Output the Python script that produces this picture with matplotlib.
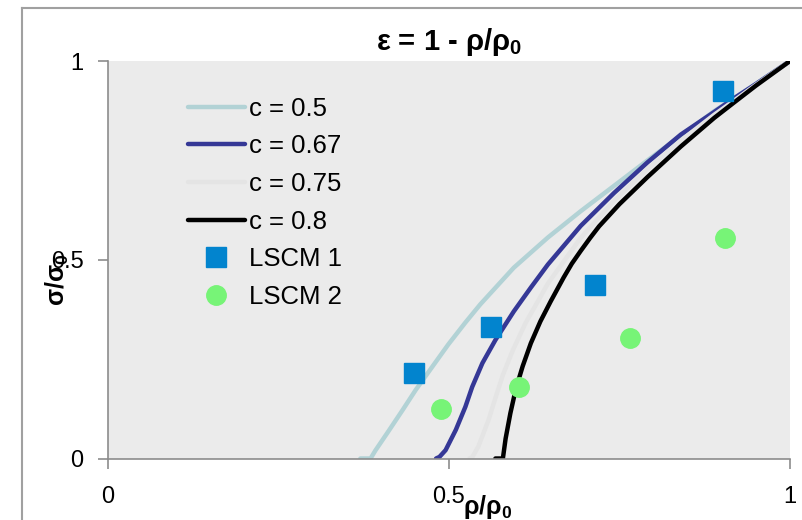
import matplotlib
matplotlib.use("Agg")
import matplotlib.pyplot as plt
from matplotlib.lines import Line2D

plt.rcParams['font.family'] = ['Liberation Sans', 'DejaVu Sans']
plt.rcParams['mathtext.fontset'] = 'custom'
plt.rcParams['mathtext.rm'] = 'Liberation Sans'
plt.rcParams['mathtext.bf'] = 'Liberation Sans:bold'

# model curves (rho/rho0, sigma/sigma0)
rho_c50 = [0.370, 0.385, 0.392, 0.411, 0.432, 0.451, 0.476, 0.499, 0.524, 0.546,
           0.595, 0.645, 0.693, 0.742, 0.791, 0.840, 0.889, 0.945, 1.0]
sig_c50 = [0.0, 0.0, 0.020, 0.068, 0.122, 0.172, 0.232, 0.287, 0.342, 0.388,
           0.480, 0.556, 0.622, 0.686, 0.750, 0.812, 0.874, 0.937, 1.0]

rho_c67 = [0.481, 0.486, 0.495, 0.510, 0.524, 0.534, 0.549, 0.568, 0.595, 0.620,
           0.645, 0.693, 0.742, 0.791, 0.840, 0.889, 0.916, 0.950, 1.0]
sig_c67 = [0.0, 0.004, 0.021, 0.072, 0.130, 0.180, 0.240, 0.298, 0.370, 0.430,
           0.488, 0.585, 0.668, 0.745, 0.815, 0.872, 0.904, 0.942, 1.0]

rho_c75 = [0.530, 0.534, 0.543, 0.558, 0.568, 0.579, 0.593, 0.612, 0.645, 0.693,
           0.742, 0.791, 0.840, 0.889, 0.916, 0.950, 1.0]
sig_c75 = [0.0, 0.003, 0.030, 0.097, 0.152, 0.210, 0.270, 0.340, 0.440, 0.555,
           0.648, 0.728, 0.800, 0.865, 0.898, 0.940, 1.0]

rho_c80 = [0.568, 0.579, 0.583, 0.590, 0.598, 0.608, 0.620, 0.634, 0.649, 0.668,
           0.680, 0.693, 0.707, 0.720, 0.750, 0.791, 0.840, 0.889, 0.916, 0.950, 1.0]
sig_c80 = [0.0, 0.0, 0.050, 0.114, 0.175, 0.232, 0.290, 0.345, 0.395, 0.455,
           0.490, 0.522, 0.555, 0.584, 0.640, 0.708, 0.785, 0.857, 0.893, 0.938, 1.0]

# measurements
rho_lscm1 = [0.448, 0.561, 0.714, 0.902]
sig_lscm1 = [0.215, 0.331, 0.436, 0.925]
rho_lscm2 = [0.489, 0.602, 0.765, 0.905]
sig_lscm2 = [0.125, 0.180, 0.303, 0.555]

fig = plt.figure(figsize=(8.03, 5.20), dpi=100)
ax = fig.add_axes([108/803, 1 - 458.5/520, 682/803, 397.5/520])
ax.set_facecolor('#ebebeb')

lw = 3.2
style = dict(lw=lw, solid_capstyle='round', solid_joinstyle='round')
ax.plot(rho_c50, sig_c50, color='#b2d2d5', label='c = 0.5', **style)
ax.plot(rho_c67, sig_c67, color='#353896', label='c = 0.67', **style)
ax.plot(rho_c75, sig_c75, color='#e4e4e4', label='c = 0.75', **style)
ax.plot(rho_c80, sig_c80, color='black', label='c = 0.8', **style)
ax.plot(rho_lscm1, sig_lscm1, 's', color='#0284ce', ms=14, mec='#0284ce', label='LSCM 1', zorder=5)
ax.plot(rho_lscm2, sig_lscm2, 'o', color='#77f477', ms=14, mec='#77f477', label='LSCM 2', zorder=5)

ax.set_xlim(0, 1)
ax.set_ylim(0, 1)
ax.set_xticks([0, 0.5, 1])
ax.set_xticklabels(['0', '0.5', '1'])
ax.set_yticks([0, 0.5, 1])
ax.set_yticklabels(['0', '0.5', '1'])

for s in ['top', 'right']:
    ax.spines[s].set_visible(False)
for s in ['left', 'bottom']:
    ax.spines[s].set_color('#8c8c8c')
    ax.spines[s].set_linewidth(1.2)
ax.tick_params(axis='both', direction='out', length=7, width=1.2, color='#8c8c8c',
               labelsize=17, labelcolor='black')
ax.tick_params(axis='x', pad=13)
ax.tick_params(axis='y', pad=10.5)

ax.set_title(r'ε = 1 - ρ/ρ$_\mathbf{0}$', fontsize=21, fontweight='bold', pad=8)

fig.text(57/803, 1 - 280/520, r'σ/σ$_\mathbf{0}$', rotation=90, fontsize=18,
         fontweight='bold', ha='center', va='center')
fig.text(488/803, 1 - 507/520, r'ρ/ρ$_\mathbf{0}$', fontsize=18,
         fontweight='bold', ha='center', va='center')

ax.legend(loc='upper left', bbox_to_anchor=(0.1175, 0.91), frameon=False,
          fontsize=18.5, handlelength=2.2, handletextpad=0.15, labelspacing=0.53,
          borderpad=0, borderaxespad=0)

# outer chart border (only left and top visible in the crop)
fig.add_artist(Line2D([22/803, 22/803], [0, 1 - 8/520], transform=fig.transFigure,
                      color='#a0a0a0', lw=1.5))
fig.add_artist(Line2D([22/803, 1], [1 - 8/520, 1 - 8/520], transform=fig.transFigure,
                      color='#a0a0a0', lw=1.5))

fig.savefig('out.png', dpi=100)
